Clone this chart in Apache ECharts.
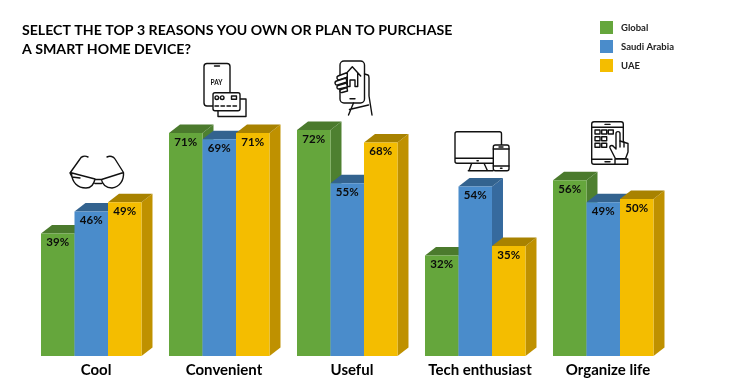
<!DOCTYPE html>
<html><head><meta charset="utf-8">
<style>html,body{margin:0;padding:0;background:#fff}#c{width:736px;height:390px}</style>
<script src="https://cdn.jsdelivr.net/npm/echarts@6/dist/echarts.min.js"></script>
</head><body><div id="c"></div>
<script>
const categories = ['Cool','Convenient','Useful','Tech enthusiast','Organize life'];
const seriesNames = ['Global','Saudi Arabia','UAE'];
const globalValues = [39,71,72,32,56];
const saudiValues = [46,69,55,54,49];
const uaeValues = [49,71,68,35,50];
const titleLines = 'SELECT THE TOP 3 REASONS YOU OWN OR PLAN TO PURCHASE\nA SMART HOME DEVICE?';
const faceColors = ['#65A63C','#4A8CCB','#F4BD00'];
const topColors = ['#4B7A2D','#33638F','#A88200'];
const sideColors = ['#4E8030','#366A9E','#BF9100'];
const FONT = 'Lato, sans-serif';
const ink = '#111';

function barRenderer(idx){
  return function(params, api){
    const cat = api.value(0), val = api.value(1);
    const top = api.coord([cat,val]), base = api.coord([cat,0]);
    const band = api.size([1,0])[0];
    const w = band*0.2617, dx = 11, dy = 8.5;
    const x0 = top[0] - band*0.4297 + idx*w, x1 = x0 + w, yT = top[1], yB = base[1];
    const poly = (pts,fill)=>({type:'polygon',shape:{points:pts},style:{fill:fill}});
    return {type:'group',children:[
      poly([[x1,yT],[x1+dx,yT-dy],[x1+dx,yB-dy],[x1,yB]],sideColors[idx]),
      poly([[x0,yT],[x0+dx,yT-dy],[x1+dx,yT-dy],[x1,yT]],topColors[idx]),
      {type:'rect',shape:{x:x0,y:yT,width:w,height:yB-yT},style:{fill:faceColors[idx]}},
      {type:'text',style:{text:val+'%',x:(x0+x1)/2,y:yT+9,align:'center',verticalAlign:'middle',
        font:'700 11.5px '+FONT,fill:'#0b0b0b'}}
    ]};
  };
}
const lineStyle = {fill:'none',stroke:ink,lineWidth:1.4,lineJoin:'round',lineCap:'round'};
const whiteStyle = {fill:'#fff',stroke:ink,lineWidth:1.4,lineJoin:'round',lineCap:'round'};
const icon = (d,s)=>({type:'path',shape:{pathData:d},style:s||lineStyle});
const icons = [
  // glasses
  icon('M88 157C84 155 81 157 80 159L70 173L72 177L80 178M72 173L95 179C94 184 91 188 86 188C78 188 72 183 71.5 173M95 179.5H101.5M95 183.5H101.5M101.5 179.5L123.5 172.5C124 180 120 187 112 188C106 188 102 184 101.5 179.5M123.5 172.5L115 159C113.5 156.5 110 155.5 107 157'),
  // pay phone
  icon('M207 63.5H227A3 3 0 0 1 230 66.5V103A3 3 0 0 1 227 106H207A3 3 0 0 1 204 103V66.5A3 3 0 0 1 207 63.5ZM214.5 66H219.5'),
  icon('M240 99H246V116.5H218V110.5',whiteStyle),
  icon('M215 92.8H238A2 2 0 0 1 240 94.8V108.7A2 2 0 0 1 238 110.7H215A2 2 0 0 1 213 108.7V94.8A2 2 0 0 1 215 92.8Z',whiteStyle),
  icon('M218.6 97.7A1.8 1.8 0 1 1 215 97.7A1.8 1.8 0 1 1 218.6 97.7ZM224 97.7A1.8 1.8 0 1 1 220.4 97.7A1.8 1.8 0 1 1 224 97.7ZM231.5 96H236.5V99.3H231.5ZM215 106H218.5M221 106H224.5M227 106H230.5M233 106H236.5'),
  {type:'text',style:{text:'PAY',x:216.5,y:82.5,align:'center',verticalAlign:'middle',font:'700 6.5px '+FONT,fill:ink}},
  // home phone
  icon('M344 61H360.5A4 4 0 0 1 364.5 65V99A4 4 0 0 1 360.5 103H344A4 4 0 0 1 340 99V65A4 4 0 0 1 344 61ZM350 98.7H355'),
  icon('M344 76L352.3 66.7L360.7 76M347.3 73V86.5H350V80H355V86.5H357.7V73'),
  icon('M364.5 74L368 75C369 75.5 369 77 369 78V96L372 115M353.5 103L348.5 115M349.5 109.5L368.5 105'),
  icon('M346 73L338 76C336 77 337 80 339 80L346.5 77.5C348 76 347.5 73 346 73Z',whiteStyle),
  icon('M346 78L336.5 81C334 82 335 85.5 337.5 85L347 82Z',whiteStyle),
  icon('M346.5 83L338 85.5C336 86.5 337 89.5 339 89L347.5 87Z',whiteStyle),
  icon('M347 87.5L341 89.5C339 90.5 340 93 342 92.5L347.5 91Z',whiteStyle),
  // devices
  icon('M457 131.7H499.5A2 2 0 0 1 501.5 133.7V161.3A2 2 0 0 1 499.5 163.3H457A2 2 0 0 1 455 161.3V133.7A2 2 0 0 1 457 131.7ZM455 158.3H493M471.7 163.3L469 170.7M484 163.3L487.5 170.7M468.3 170.7H493M477 160.8H478.3'),
  icon('M495.3 145H507A2 2 0 0 1 509 147V168.7A2 2 0 0 1 507 170.7H495.3A2 2 0 0 1 493.3 168.7V147A2 2 0 0 1 495.3 145Z',whiteStyle),
  icon('M493.3 149H509M493.3 166H509M500.5 168.3H502M499 147H503'),
  // tablet
  icon('M594 121.7H621A2.3 2.3 0 0 1 623.3 124V162A2.3 2.3 0 0 1 621 164.3H594A2.3 2.3 0 0 1 591.7 162V124A2.3 2.3 0 0 1 594 121.7ZM591.7 127.3H623.3M591.7 159.3H612M605 124.4H610M605 161.8H610'),
  icon('M595 130h5v4h-5ZM601.7 130h5v4h-5ZM608.3 130h5v4h-5ZM595 136.7h5v4h-5ZM601.7 136.7h5v4h-5ZM595 143.3h5v4h-5ZM601.7 143.3h5v4h-5Z'),
  icon('M616 133.5C616 131 620 131 620 133.5V141L628 143.5V152L625.5 158.7H615.5L610 148C609 146 612 144.5 613.5 146.5L616 149Z',whiteStyle),
  icon('M620 141V147M624 142V147M615 159H627.7V164.3H615Z',whiteStyle)
];
const chart = echarts.init(document.getElementById('c'),null,{renderer:'canvas'});
const valueSets = [globalValues,saudiValues,uaeValues];
const barSeries = seriesNames.map((name,i)=>({
    type:'custom',name:name,renderItem:barRenderer(i),
    encode:{x:0,y:1},
    itemStyle:{color:faceColors[i]},
    data:valueSets[i].map((v,j)=>[j,v]),
    z:2+i,clip:false
}));
const iconSeries = {
    type:'custom',name:'icons',z:10,silent:true,clip:false,
    encode:{x:0,y:1},
    data:[[0,0]],
    renderItem:function(){ return {type:'group',children:icons}; }
};
chart.setOption({
  animation:false,
  backgroundColor:'#fff',
  title:{text:titleLines,left:17,top:16,textStyle:{fontFamily:FONT,fontWeight:700,fontSize:14.14,lineHeight:19,color:'#000'}},
  legend:{data:seriesNames,orient:'vertical',left:595,top:16,itemWidth:13,itemHeight:13,itemGap:6,icon:'rect',
    textStyle:{fontFamily:FONT,fontWeight:700,fontSize:9.5,color:'#222',padding:[0,0,0,3]}},
  grid:{left:32,width:640,top:42,height:314},
  xAxis:{type:'category',data:categories,axisLine:{show:false},axisTick:{show:false},
    axisLabel:{fontFamily:FONT,fontWeight:700,fontSize:15,color:'#000',margin:7,interval:0,hideOverlap:false}},
  yAxis:{type:'value',min:0,max:100,show:false,splitLine:{show:false}},
  series:barSeries.concat([iconSeries])
});
</script></body></html>
